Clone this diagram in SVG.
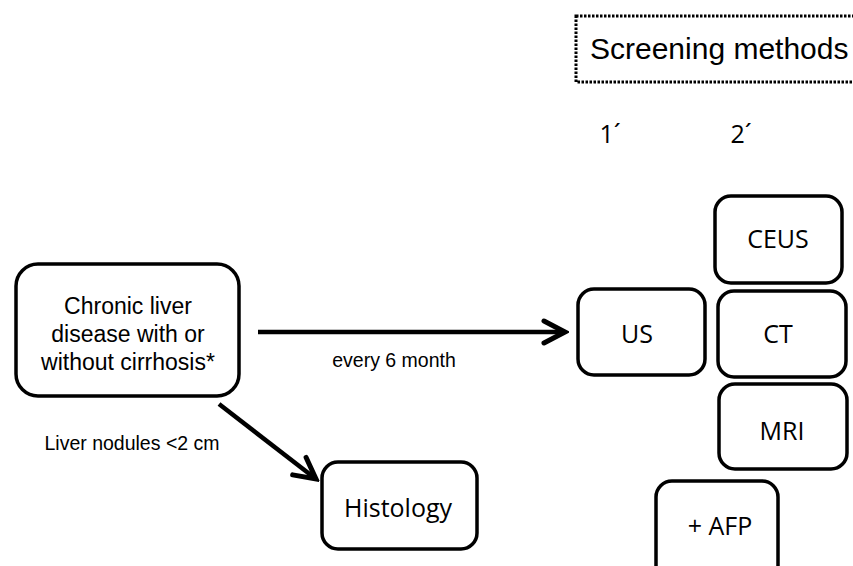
<svg xmlns="http://www.w3.org/2000/svg" width="853" height="566" viewBox="0 0 853 566">
<defs>
<style>
.box{fill:#fff;stroke:#000;stroke-width:3.5}
.sans{font-family:"Liberation Sans",Arial,sans-serif;fill:#000}
.cal{font-family:"Open Sans","Liberation Sans",sans-serif;fill:#000;font-size:25px}
.conn{stroke:#000;stroke-width:4.5;fill:none}
</style>
<marker id="chev" markerUnits="userSpaceOnUse" viewBox="-26 -16 30 32" markerWidth="30" markerHeight="32" refX="0" refY="0" orient="auto">
<path d="M-21,-11 L0,0 L-21,11" fill="none" stroke="#000" stroke-width="5" stroke-linecap="round" stroke-linejoin="miter"/>
</marker>
</defs>
<rect width="853" height="566" fill="#fff"/>
<g id="screening-methods">
<rect x="576" y="16" width="285" height="66" fill="none" stroke="#000" stroke-width="3" stroke-dasharray="2.5,1.5"/>
<text class="sans" x="590" y="59" font-size="30">Screening methods</text>
</g>
<g id="labels">
<text class="cal" x="610" y="143" text-anchor="middle">1´</text>
<text class="cal" x="741" y="143" text-anchor="middle">2´</text>
</g>
<g id="connectors">
<line class="conn" x1="258" y1="332" x2="565" y2="332" marker-end="url(#chev)"/>
<line class="conn" x1="219" y1="404" x2="316" y2="479" marker-end="url(#chev)"/>
<text class="sans" x="394" y="367" font-size="19.5" text-anchor="middle">every 6 month</text>
<text class="sans" x="132" y="450" font-size="19.5" text-anchor="middle">Liver nodules &lt;2 cm</text>
</g>
<g id="chronic">
<rect class="box" x="16" y="264" width="223" height="132" rx="22"/>
<text class="sans" font-size="23" text-anchor="middle"><tspan x="128" y="314">Chronic liver</tspan><tspan x="128" y="342">disease with or</tspan><tspan x="128" y="370">without cirrhosis*</tspan></text>
</g>
<g id="histology">
<rect class="box" x="322" y="462" width="155" height="87" rx="16"/>
<text class="cal" x="398" y="517" text-anchor="middle" font-size="26">Histology</text>
</g>
<g id="us">
<rect class="box" x="578" y="289" width="127" height="86" rx="16"/>
<text class="cal" x="637" y="343" text-anchor="middle">US</text>
</g>
<g id="ceus">
<rect class="box" x="715" y="196" width="127" height="87" rx="16"/>
<text class="cal" x="778" y="248" text-anchor="middle">CEUS</text>
</g>
<g id="ct">
<rect class="box" x="718" y="291" width="128" height="86" rx="16"/>
<text class="cal" x="778" y="343" text-anchor="middle">CT</text>
</g>
<g id="mri">
<rect class="box" x="719" y="384" width="128" height="85" rx="16"/>
<text class="cal" x="782" y="440" text-anchor="middle">MRI</text>
</g>
<g id="afp">
<rect class="box" x="656" y="481" width="122" height="100" rx="16"/>
<text class="cal" x="720" y="535" text-anchor="middle">+ AFP</text>
</g>
</svg>
